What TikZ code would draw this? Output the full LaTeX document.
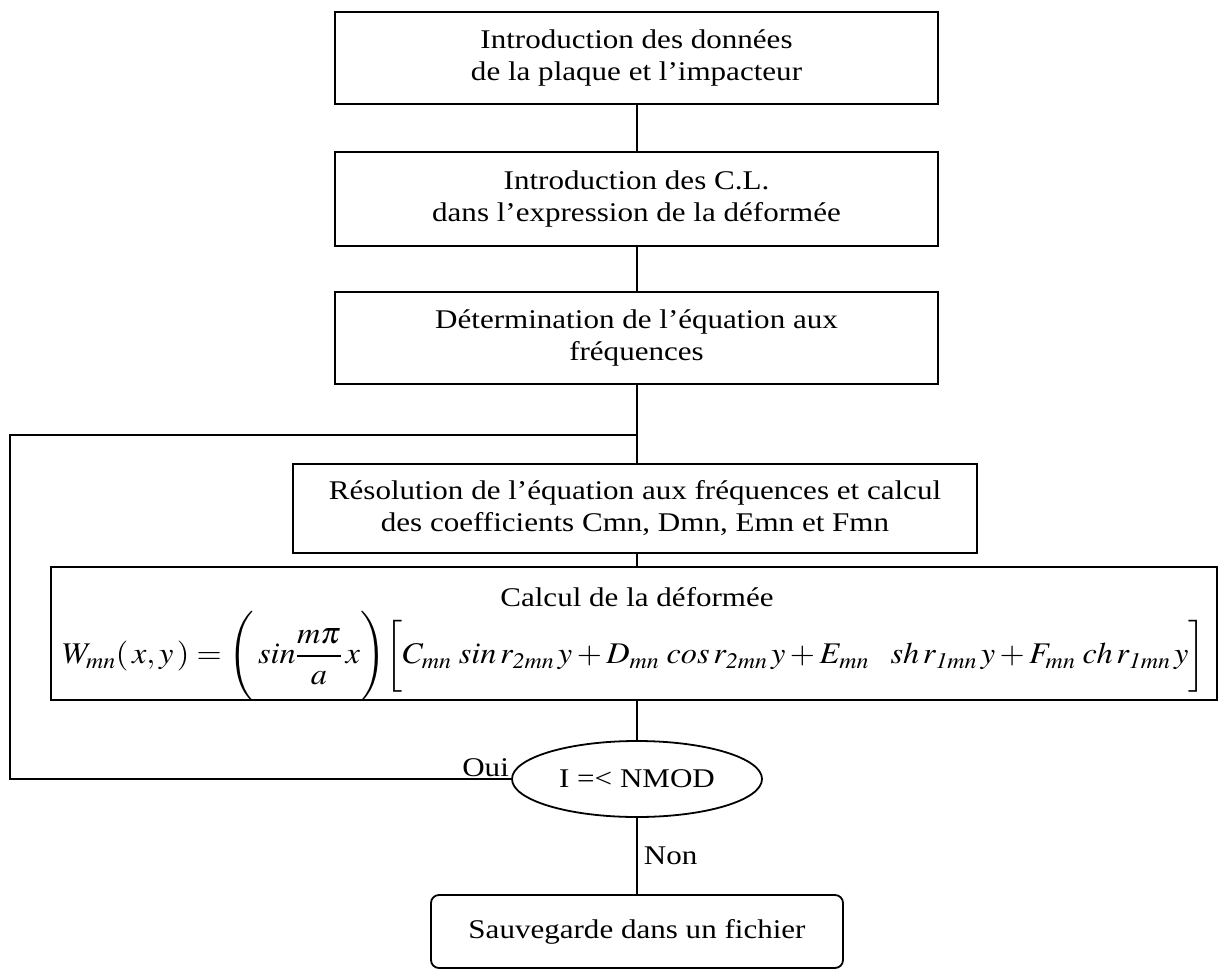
\documentclass[tikz,border=0pt]{standalone}
\usepackage{mathptmx}
\usepackage{fontspec}
\setmainfont{Liberation Serif}[FakeStretch=1.15]
\usetikzlibrary{shapes.geometric}
\begin{document}
\begin{tikzpicture}[x=1pt,y=-1pt,
  every node/.style={font=\fontsize{27}{32}\selectfont},
  box/.style={draw,line width=1.8pt,align=center,inner sep=0pt},
  conn/.style={line width=1.8pt}]
\useasboundingbox (0,0) rectangle (1226,972);
\node[box,minimum width=603,minimum height=92] (b1) at (636.5,58) {Introduction des données\\de la plaque et l’impacteur};
\node[box,minimum width=603,minimum height=94] (b2) at (636.5,199) {Introduction des C.L.\\dans l’expression de la déformée};
\node[box,minimum width=603,minimum height=92] (b3) at (636.5,338) {Détermination de l’équation aux\\fréquences};
\node[box,minimum width=684,minimum height=89] (b4) at (635,508.5) {Résolution de l’équation aux fréquences et calcul\\des coefficients Cmn, Dmn, Emn et Fmn};
\node[box,minimum width=1166,minimum height=133] (b5) at (634,633.5) {};
\node (t5) at (637,597) {Calcul de la déformée};
\node[font=\fontsize{30}{34}\selectfont] (f5) at (634,656) {\resizebox{1143pt}{\height}{$\displaystyle W_{mn}(\,x,y\,)=\Biggl(\,sin\frac{m\pi}{a}\,x\Biggr)\biggl[C_{mn}\;sin\,r_{\mathit{2mn}}\,y+D_{mn}\;cos\,r_{\mathit{2mn}}\,y+E_{mn}\;\;\;sh\,r_{\mathit{1mn}}\,y+F_{mn}\;ch\,r_{\mathit{1mn}}\,y\biggr]$}};
\node[draw,ellipse,line width=1.8pt,minimum width=250,minimum height=76,inner sep=0pt] (e) at (637,779) {I =< NMOD};
\node[box,rounded corners=8pt,minimum width=412,minimum height=73] (b6) at (637,931.5) {Sauvegarde dans un fichier};
\coordinate (j) at (637,435);
\coordinate (lt) at (10,435);
\coordinate (lb) at (10,779);
\draw[conn] (j |- b1.south) -- (j |- b2.north);
\draw[conn] (j |- b2.south) -- (j |- b3.north);
\draw[conn] (j |- b3.south) -- (j |- b4.north);
\draw[conn] (j |- b4.south) -- (j |- b5.north);
\draw[conn] (j |- b5.south) -- (e.north);
\draw[conn] (e.south) -- node[right,inner sep=6pt] (non) {Non} (b6.north);
\draw[conn] (e.west) -- (lb) -- (lt) -- (j);
\node[anchor=south east,inner sep=2pt] (oui) at (e.west) {Oui};
\end{tikzpicture}
\end{document}
